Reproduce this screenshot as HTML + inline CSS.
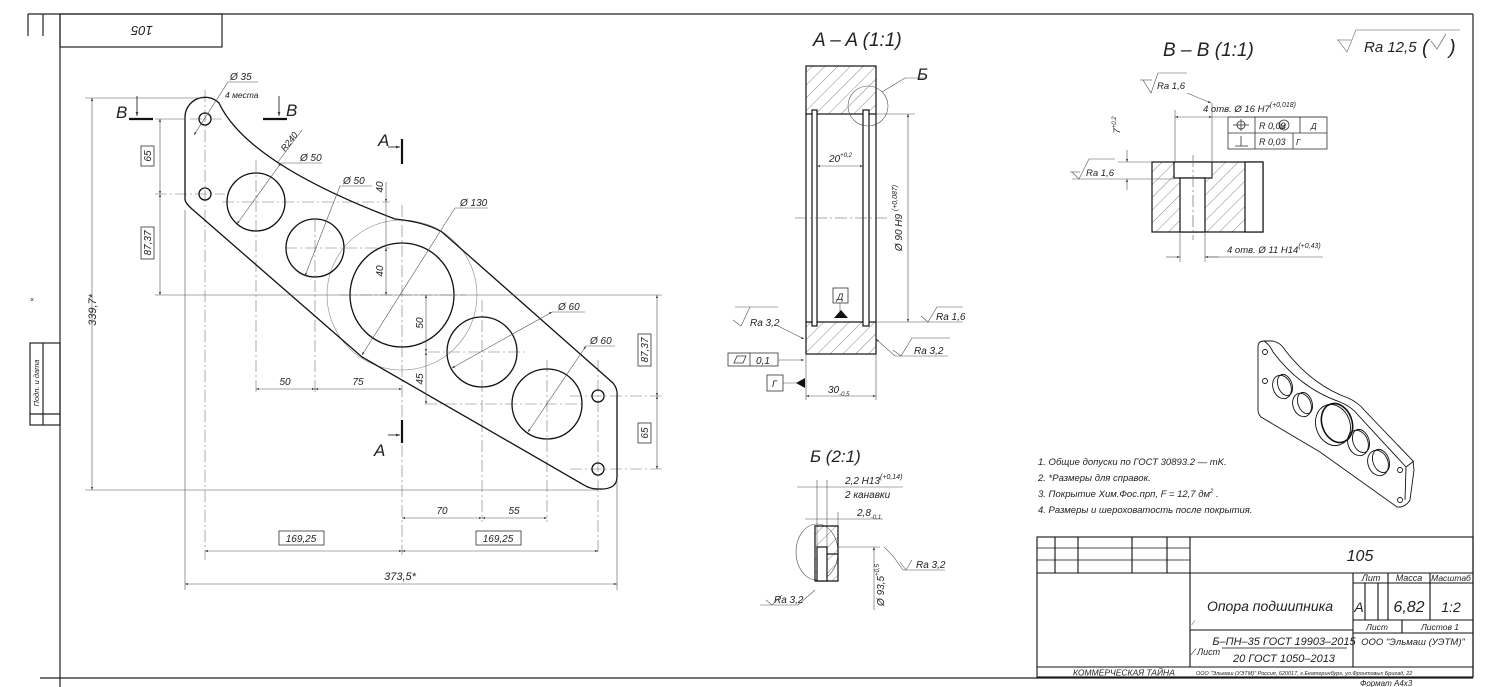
<!DOCTYPE html>
<html><head><meta charset="utf-8">
<style>
html,body{margin:0;padding:0;background:#fff;}
svg{display:block;}
text{font-family:"Liberation Sans","DejaVu Sans",sans-serif;font-style:italic;fill:#222;}
</style></head>
<body>
<svg width="1500" height="687" viewBox="0 0 1500 687" xmlns="http://www.w3.org/2000/svg">
<defs>
<marker id="a" viewBox="0 0 10 10" refX="10" refY="5" markerWidth="7" markerHeight="5" orient="auto-start-reverse"><path d="M0,1.5L10,5L0,8.5z" fill="#333"/></marker>
<pattern id="h" width="9" height="9" patternUnits="userSpaceOnUse" patternTransform="rotate(45)"><line x1="0" y1="0" x2="0" y2="9" stroke="#555" stroke-width="0.7"/></pattern>
</defs>
<rect width="1500" height="687" fill="#fff"/>

<!-- Frame -->
<g stroke="#222" fill="none" stroke-width="1.2">
<line x1="28" y1="14" x2="1473" y2="14"/>
<line x1="60" y1="14" x2="60" y2="687"/>
<line x1="1473" y1="14" x2="1473" y2="677"/>
<line x1="40" y1="678" x2="1473" y2="678"/>
<rect x="60" y="14" width="162" height="33"/>
<line x1="28" y1="14" x2="28" y2="36"/><line x1="43" y1="14" x2="43" y2="36"/>
<rect x="30" y="343" width="30" height="82"/>
<line x1="43" y1="343" x2="43" y2="425"/>
<line x1="30" y1="414" x2="60" y2="414"/>
</g>
<text x="142" y="36" font-size="13" transform="rotate(180 142 31)" text-anchor="middle">105</text>
<text x="0" y="0" font-size="7.5" transform="translate(39 383) rotate(-90)" text-anchor="middle">Подп. и дата</text>
<text x="30" y="302" font-size="7" fill="#555">×</text>

<!-- Centerlines main view -->
<g stroke="#777" stroke-width="0.6" stroke-dasharray="12 3 2 3" fill="none">
<line x1="205" y1="90" x2="205" y2="560"/>
<line x1="598" y1="360" x2="598" y2="555"/>
<line x1="256" y1="160" x2="256" y2="392"/>
<line x1="315" y1="220" x2="315" y2="392"/>
<line x1="402" y1="205" x2="402" y2="555"/>
<line x1="482" y1="300" x2="482" y2="522"/>
<line x1="547" y1="360" x2="547" y2="522"/>
<line x1="222" y1="202" x2="390" y2="202"/>
<line x1="285" y1="248" x2="390" y2="248"/>
<line x1="340" y1="295" x2="465" y2="295"/>
<line x1="428" y1="352" x2="525" y2="352"/>
<line x1="425" y1="404" x2="585" y2="404"/>
<line x1="190" y1="119" x2="225" y2="119"/>
<line x1="155" y1="194" x2="225" y2="194"/>
<line x1="570" y1="396" x2="662" y2="396"/>
<line x1="570" y1="469" x2="662" y2="469"/>
</g>
<circle cx="402" cy="295" r="75" stroke="#888" stroke-width="0.6" fill="none"/>

<!-- Main outline -->
<g stroke="#111" stroke-width="1.3" fill="none">
<path d="M185,199 L185,117 A20,20 0 0 1 219,103 Q247,163 395,219 Q425,222 442,232 L613,383 Q618,389 617,397 L617,477 Q617,490 598,489 Q590,489 584,485 L362,357 L192,209 Q185,203 185,199 Z"/>
<circle cx="205" cy="119" r="6"/><circle cx="205" cy="194" r="6"/>
<circle cx="598" cy="396" r="6"/><circle cx="598" cy="469" r="6"/>
<circle cx="256" cy="202" r="29"/>
<circle cx="315" cy="248" r="29"/>
<circle cx="402" cy="295" r="52"/>
<circle cx="482" cy="352" r="35"/>
<circle cx="547" cy="404" r="35"/>
</g>

<!-- Dimension lines main -->
<g stroke="#555" stroke-width="0.6" fill="none">
<line x1="85" y1="98" x2="205" y2="98"/>
<line x1="85" y1="490" x2="598" y2="490"/>
<line x1="92" y1="98" x2="92" y2="490" marker-start="url(#a)" marker-end="url(#a)"/>
<line x1="185" y1="210" x2="185" y2="590"/>
<line x1="617" y1="480" x2="617" y2="590"/>
<line x1="185" y1="584" x2="617" y2="584" marker-start="url(#a)" marker-end="url(#a)"/>
<line x1="205" y1="551" x2="402" y2="551" marker-start="url(#a)" marker-end="url(#a)"/>
<line x1="402" y1="551" x2="598" y2="551" marker-start="url(#a)" marker-end="url(#a)"/>
<line x1="402" y1="518" x2="482" y2="518" marker-start="url(#a)" marker-end="url(#a)"/>
<line x1="482" y1="518" x2="547" y2="518" marker-start="url(#a)" marker-end="url(#a)"/>
<line x1="256" y1="389" x2="315" y2="389" marker-start="url(#a)" marker-end="url(#a)"/>
<line x1="315" y1="389" x2="402" y2="389" marker-start="url(#a)" marker-end="url(#a)"/>
<line x1="155" y1="119" x2="185" y2="119"/>
<line x1="155" y1="295" x2="402" y2="295"/>
<line x1="160" y1="119" x2="160" y2="194" marker-start="url(#a)" marker-end="url(#a)"/>
<line x1="160" y1="194" x2="160" y2="295" marker-start="url(#a)" marker-end="url(#a)"/>
<line x1="402" y1="295" x2="662" y2="295"/>
<line x1="657" y1="295" x2="657" y2="396" marker-start="url(#a)" marker-end="url(#a)"/>
<line x1="657" y1="396" x2="657" y2="469" marker-start="url(#a)" marker-end="url(#a)"/>
<line x1="386" y1="182" x2="386" y2="202" marker-end="url(#a)"/>
<line x1="386" y1="248" x2="386" y2="295" marker-start="url(#a)" marker-end="url(#a)"/>
<line x1="386" y1="202" x2="386" y2="248"/>
<line x1="426" y1="295" x2="426" y2="352" marker-start="url(#a)" marker-end="url(#a)"/>
<line x1="426" y1="352" x2="426" y2="404" marker-start="url(#a)" marker-end="url(#a)"/>
<line x1="194" y1="135" x2="228" y2="82" marker-start="url(#a)"/><line x1="228" y1="82" x2="258" y2="82"/>
<line x1="278" y1="162" x2="302" y2="130"/>
<line x1="237" y1="224" x2="281" y2="163" marker-start="url(#a)" marker-end="url(#a)"/><line x1="281" y1="163" x2="322" y2="163"/>
<line x1="305" y1="276" x2="340" y2="186" marker-start="url(#a)"/><line x1="340" y1="186" x2="372" y2="186"/>
<line x1="362" y1="355" x2="455" y2="208" marker-start="url(#a)"/><line x1="455" y1="208" x2="488" y2="208"/>
<line x1="452" y1="368" x2="552" y2="312" marker-start="url(#a)" marker-end="url(#a)"/><line x1="552" y1="312" x2="585" y2="312"/>
<line x1="528" y1="432" x2="586" y2="346" marker-start="url(#a)" marker-end="url(#a)"/><line x1="586" y1="346" x2="615" y2="346"/>
</g>
<g font-size="10">
<text x="80" y="294" transform="rotate(-90 96 294)" text-anchor="middle" font-size="11">339,7*</text>
<text x="400" y="580" font-size="11" text-anchor="middle">373,5*</text>
<rect x="279" y="531" width="45" height="14" fill="none" stroke="#333" stroke-width="0.8"/>
<text x="301" y="542" text-anchor="middle">169,25</text>
<rect x="476" y="531" width="45" height="14" fill="none" stroke="#333" stroke-width="0.8"/>
<text x="498" y="542" text-anchor="middle">169,25</text>
<text x="442" y="514" text-anchor="middle">70</text>
<text x="514" y="514" text-anchor="middle">55</text>
<text x="285" y="385" text-anchor="middle">50</text>
<text x="358" y="385" text-anchor="middle">75</text>
<rect x="141" y="146" width="13" height="20" fill="none" stroke="#333" stroke-width="0.8"/>
<text transform="translate(151 156) rotate(-90)" text-anchor="middle">65</text>
<rect x="141" y="227" width="13" height="32" fill="none" stroke="#333" stroke-width="0.8"/>
<text transform="translate(151 243) rotate(-90)" text-anchor="middle">87,37</text>
<rect x="638" y="334" width="13" height="32" fill="none" stroke="#333" stroke-width="0.8"/>
<text transform="translate(648 350) rotate(-90)" text-anchor="middle">87,37</text>
<rect x="638" y="423" width="13" height="20" fill="none" stroke="#333" stroke-width="0.8"/>
<text transform="translate(648 433) rotate(-90)" text-anchor="middle">65</text>
<text transform="translate(383 187) rotate(-90)" text-anchor="middle">40</text>
<text transform="translate(383 271) rotate(-90)" text-anchor="middle">40</text>
<text transform="translate(423 323) rotate(-90)" text-anchor="middle">50</text>
<text transform="translate(423 379) rotate(-90)" text-anchor="middle">45</text>
<text x="230" y="80">Ø 35</text>
<text x="225" y="98" font-size="8.5">4 места</text>
<text transform="translate(285 152) rotate(-52)" font-size="9">R240</text>
<text x="300" y="161">Ø 50</text>
<text x="343" y="184">Ø 50</text>
<text x="460" y="206">Ø 130</text>
<text x="558" y="310">Ø 60</text>
<text x="590" y="344">Ø 60</text>
</g>
<g stroke="#111" fill="none">
<line x1="129" y1="119" x2="153" y2="119" stroke-width="2.2"/>
<line x1="137" y1="96" x2="137" y2="116" stroke-width="0.8" marker-end="url(#a)"/>
<line x1="263" y1="119" x2="287" y2="119" stroke-width="2.2"/>
<line x1="279" y1="96" x2="279" y2="116" stroke-width="0.8" marker-end="url(#a)"/>
<line x1="402" y1="139" x2="402" y2="164" stroke-width="2.2"/>
<line x1="388" y1="147" x2="400" y2="147" stroke-width="0.8" marker-end="url(#a)"/>
<line x1="402" y1="420" x2="402" y2="443" stroke-width="2.2"/>
<line x1="388" y1="435" x2="400" y2="435" stroke-width="0.8" marker-end="url(#a)"/>
</g>
<g font-size="17">
<text x="116" y="118">B</text><text x="286" y="116">B</text>
<text x="378" y="146">A</text><text x="374" y="456">A</text>
</g>

<!-- Section A-A -->
<text x="813" y="46" font-size="19">A – A (1:1)</text>
<g stroke="#111" stroke-width="1.2">
<rect x="806" y="66" width="70" height="48" fill="url(#h)"/>
<rect x="806" y="322" width="70" height="32" fill="url(#h)"/>
<line x1="806" y1="114" x2="806" y2="322"/><line x1="876" y1="114" x2="876" y2="322"/>
<rect x="812" y="110" width="5" height="216" fill="#fff"/>
<rect x="863" y="110" width="6" height="216" fill="#fff"/>
</g>
<g stroke="#555" stroke-width="0.6" fill="none">
<line x1="795" y1="218" x2="890" y2="218" stroke-dasharray="12 3 2 3"/>
<circle cx="868" cy="106" r="20"/>
<line x1="882" y1="92" x2="905" y2="78"/><line x1="905" y1="78" x2="925" y2="78"/>
<line x1="876" y1="114" x2="915" y2="114"/>
<line x1="908" y1="114" x2="908" y2="322" marker-start="url(#a)" marker-end="url(#a)"/>
<line x1="817" y1="166" x2="863" y2="166" marker-start="url(#a)" marker-end="url(#a)"/>
<line x1="840" y1="303" x2="840" y2="316"/>
<line x1="735" y1="307" x2="778" y2="307"/><polyline points="733,320 741,326 750,307"/>
<line x1="778" y1="326" x2="804" y2="339" marker-end="url(#a)"/>
<line x1="876" y1="322" x2="963" y2="322"/><polyline points="921,316 928,322 937,307 963,307"/>
<line x1="876" y1="339" x2="895" y2="356" marker-start="url(#a)"/><line x1="895" y1="356" x2="948" y2="356"/>
<polyline points="893,350 901,356 912,338 950,338"/>
<line x1="806" y1="354" x2="806" y2="400"/><line x1="876" y1="354" x2="876" y2="400"/>
<line x1="806" y1="396" x2="876" y2="396" marker-start="url(#a)" marker-end="url(#a)"/>
<line x1="778" y1="360" x2="804" y2="360" marker-end="url(#a)"/>
<line x1="783" y1="383" x2="804" y2="383"/>
</g>
<path d="M834,318 L841,310 L848,318Z" fill="#111"/>
<path d="M796,383 L805,378 L805,388Z" fill="#111"/>
<g stroke="#333" stroke-width="0.8" fill="none">
<rect x="833" y="288" width="15" height="15"/>
<rect x="728" y="353" width="50" height="13"/><line x1="750" y1="353" x2="750" y2="366"/>
<path d="M734,363 L737,356 L746,356 L743,363Z"/>
<rect x="767" y="375" width="16" height="16"/>
</g>
<g font-size="10">
<text x="917" y="80" font-size="17">Б</text>
<text x="829" y="162">20<tspan font-size="6" dy="-5">+0,2</tspan></text>
<text transform="translate(902 218) rotate(-90)" text-anchor="middle">Ø 90 H9 <tspan font-size="7" dy="-5">(+0,087)</tspan></text>
<text x="837" y="300" font-size="9">Д</text>
<text x="750" y="326" fill="#888">Ra 3,2</text>
<text x="936" y="320" fill="#888">Ra 1,6</text>
<text x="914" y="354" fill="#888">Ra 3,2</text>
<text x="756" y="364">0,1</text>
<text x="772" y="387" font-size="9">Г</text>
<text x="828" y="393">30<tspan font-size="6" dy="3">-0,5</tspan></text>
</g>

<!-- Detail Б -->
<text x="810" y="462" font-size="17">Б (2:1)</text>
<g stroke="#555" stroke-width="0.6" fill="none">
<line x1="797" y1="487" x2="903" y2="487"/>
<line x1="805" y1="519" x2="883" y2="519"/>
<line x1="817" y1="480" x2="817" y2="547"/><line x1="827" y1="480" x2="827" y2="547"/>
<line x1="838" y1="512" x2="838" y2="526"/>
<ellipse cx="817" cy="552" rx="21" ry="28"/>
<line x1="838" y1="547" x2="880" y2="547"/>
<line x1="874" y1="547" x2="874" y2="610" marker-start="url(#a)"/>
<polyline points="884,547 893,556 903,570 945,570"/><polyline points="900,562 906,570 912,560"/>
<polyline points="760,605 798,605 815,590"/><polyline points="766,600 772,605 782,595"/>
</g>
<g stroke="#111" stroke-width="1.2">
<path d="M815,526 L838,526 L838,581 L815,581Z" fill="url(#h)"/>
<rect x="817" y="547" width="10" height="34" fill="#fff"/>
<line x1="827" y1="554" x2="838" y2="554"/>
</g>
<g font-size="10">
<text x="845" y="484">2,2 H13<tspan font-size="7" dy="-5">(+0,14)</tspan></text>
<text x="845" y="498">2 канавки</text>
<text x="857" y="516">2,8<tspan font-size="6" dy="3">-0,1</tspan></text>
<text transform="translate(884 585) rotate(-90)" text-anchor="middle">Ø 93,5<tspan font-size="6" dy="-5">+0,5</tspan></text>
<text x="916" y="568" fill="#888">Ra 3,2</text>
<text x="774" y="603" fill="#888">Ra 3,2</text>
</g>

<!-- B-B -->
<text x="1163" y="56" font-size="19">B – B (1:1)</text>
<g stroke="#888" stroke-width="0.8" fill="none">
<polyline points="1338,40 1347,52 1356,30 1460,30"/>
<line x1="1337" y1="40" x2="1351" y2="40"/>
</g>
<text x="1364" y="52" font-size="15" fill="#888">Ra 12,5</text>
<text x="1422" y="54" font-size="20" fill="#888" font-style="normal">(</text>
<polyline points="1431,41 1437,49 1446,34" stroke="#888" fill="none"/>
<text x="1449" y="54" font-size="20" fill="#888" font-style="normal">)</text>
<g stroke="#111" stroke-width="1.2">
<rect x="1152" y="162" width="111" height="70" fill="url(#h)"/>
<rect x="1174" y="162" width="38" height="16" fill="#fff"/>
<rect x="1180" y="178" width="25" height="54" fill="#fff"/>
<rect x="1245" y="162" width="18" height="70" fill="#fff"/>
</g>
<g stroke="#555" stroke-width="0.6" fill="none">
<line x1="1193" y1="155" x2="1193" y2="240" stroke-dasharray="12 3 2 3"/>
<polyline points="1143,80 1151,93 1158,73 1187,73"/><line x1="1140" y1="80" x2="1152" y2="80"/>
<line x1="1187" y1="93" x2="1211" y2="103" marker-end="url(#a)"/>
<line x1="1212" y1="103" x2="1212" y2="178"/><line x1="1175" y1="110" x2="1175" y2="162"/>
<line x1="1175" y1="117" x2="1212" y2="117" marker-start="url(#a)" marker-end="url(#a)"/>
<line x1="1212" y1="117" x2="1327" y2="117"/>
<line x1="1118" y1="162" x2="1152" y2="162"/>
<line x1="1127" y1="150" x2="1127" y2="162" marker-end="url(#a)"/>
<line x1="1127" y1="190" x2="1127" y2="179" marker-end="url(#a)"/>
<line x1="1072" y1="179" x2="1174" y2="179"/>
<polyline points="1072,172 1079,179 1089,159 1115,159"/><line x1="1070" y1="172" x2="1080" y2="172"/>
<line x1="1180" y1="232" x2="1180" y2="262"/><line x1="1205" y1="232" x2="1205" y2="262"/>
<line x1="1166" y1="257" x2="1180" y2="257" marker-end="url(#a)"/>
<line x1="1219" y1="257" x2="1205" y2="257" marker-end="url(#a)"/><line x1="1205" y1="257" x2="1323" y2="257"/>
</g>
<g stroke="#333" stroke-width="0.8" fill="none">
<rect x="1228" y="117" width="99" height="32"/>
<line x1="1228" y1="133" x2="1327" y2="133"/>
<line x1="1255" y1="117" x2="1255" y2="149"/>
<line x1="1300" y1="117" x2="1300" y2="133"/>
<line x1="1293" y1="133" x2="1293" y2="149"/>
<circle cx="1241" cy="125" r="4"/><line x1="1233" y1="125" x2="1249" y2="125"/><line x1="1241" y1="119" x2="1241" y2="131"/>
<line x1="1235" y1="146" x2="1248" y2="146"/><line x1="1241" y1="136" x2="1241" y2="146"/>
<circle cx="1284" cy="125" r="5"/>
</g>
<g font-size="9.5">
<text x="1157" y="89" fill="#888">Ra 1,6</text>
<text x="1086" y="176" fill="#888">Ra 1,6</text>
<text x="1203" y="112">4 отв. Ø  16 H7<tspan font-size="7" dy="-5">(+0,018)</tspan></text>
<text x="1259" y="129" font-size="9">R 0,03</text><text x="1280" y="129" font-size="7">M</text>
<text x="1311" y="129" font-size="8">Д</text>
<text x="1259" y="145" font-size="9">R 0,03</text>
<text x="1296" y="145" font-size="8">Г</text>
<text transform="translate(1120 125) rotate(-90)" text-anchor="middle">7<tspan font-size="6" dy="-4">+0,2</tspan></text>
<text x="1227" y="253">4 отв. Ø  11 H14<tspan font-size="7" dy="-5">(+0,43)</tspan></text>
</g>

<!-- Isometric -->
<g stroke="#111" stroke-width="0.9" fill="none">
<path d="M1258,347 Q1258,341 1264,341 L1273,341 Q1281,343 1285,350 Q1312,385 1348,398 Q1358,402 1366,412 L1413,461 L1414,470 L1410,500 Q1405,508 1397,507 L1320,452 L1261,417 Q1258,414 1258,410 Z"/>
<path d="M1264,341 Q1270,345 1273,352 Q1300,388 1340,402 Q1352,407 1358,415 L1406,467 L1405,500"/>
<path d="M1406,467 L1414,461"/>
<ellipse cx="1282" cy="387" rx="9" ry="12" transform="rotate(-20 1282 387)"/>
<ellipse cx="1285" cy="385" rx="7" ry="11" transform="rotate(-20 1285 385)"/>
<ellipse cx="1302" cy="405" rx="9" ry="12" transform="rotate(-20 1302 405)"/>
<ellipse cx="1305" cy="403" rx="7" ry="11" transform="rotate(-20 1305 403)"/>
<ellipse cx="1333" cy="425" rx="17" ry="21" transform="rotate(-20 1333 425)"/>
<ellipse cx="1337" cy="423" rx="15" ry="20" transform="rotate(-20 1337 423)" stroke-width="1.6"/>
<ellipse cx="1358" cy="443" rx="10" ry="13" transform="rotate(-20 1358 443)"/>
<ellipse cx="1361" cy="441" rx="8" ry="12" transform="rotate(-20 1361 441)"/>
<ellipse cx="1378" cy="463" rx="10" ry="13" transform="rotate(-20 1378 463)"/>
<ellipse cx="1381" cy="461" rx="8" ry="12" transform="rotate(-20 1381 461)"/>
<circle cx="1265" cy="352" r="2.5"/><circle cx="1265" cy="381" r="2.5"/>
<circle cx="1400" cy="470" r="2.5"/><circle cx="1400" cy="500" r="2.5"/>
</g>

<!-- Notes -->
<g font-size="9.5">
<text x="1038" y="465">1. Общие допуски по ГОСТ 30893.2 — mK.</text>
<text x="1038" y="481">2. *Размеры для справок.</text>
<text x="1038" y="497">3. Покрытие Хим.Фос.прп, F = 12,7 дм<tspan font-size="6" dy="-4">2</tspan><tspan dy="4"> .</tspan></text>
<text x="1038" y="513">4. Размеры и шероховатость после покрытия.</text>
</g>

<!-- Title block -->
<g stroke="#111" stroke-width="1.1" fill="none">
<rect x="1037" y="537" width="436" height="140"/>
<line x1="1037" y1="548" x2="1190" y2="548" stroke-width="0.7"/>
<line x1="1037" y1="560" x2="1190" y2="560" stroke-width="0.7"/>
<line x1="1037" y1="573" x2="1473" y2="573"/>
<line x1="1055" y1="537" x2="1055" y2="573"/><line x1="1078" y1="537" x2="1078" y2="573"/>
<line x1="1132" y1="537" x2="1132" y2="573"/><line x1="1167" y1="537" x2="1167" y2="573"/>
<line x1="1190" y1="537" x2="1190" y2="667"/>
<line x1="1037" y1="667" x2="1473" y2="667"/>
<line x1="1353" y1="573" x2="1353" y2="667"/>
<line x1="1353" y1="583" x2="1473" y2="583"/>
<line x1="1365" y1="583" x2="1365" y2="620"/><line x1="1378" y1="583" x2="1378" y2="620"/>
<line x1="1388" y1="573" x2="1388" y2="620"/><line x1="1430" y1="573" x2="1430" y2="620"/>
<line x1="1353" y1="620" x2="1473" y2="620"/><line x1="1353" y1="633" x2="1473" y2="633"/>
<line x1="1402" y1="620" x2="1402" y2="633"/>
<line x1="1190" y1="630" x2="1353" y2="630"/>
<line x1="1222" y1="648" x2="1347" y2="648" stroke-width="0.8"/>
</g>
<text x="1360" y="561" font-size="16" text-anchor="middle">105</text>
<text x="1270" y="611" font-size="14" text-anchor="middle">Опора подшипника</text>
<g font-size="9" text-anchor="middle">
<text x="1371" y="581">Лит</text><text x="1409" y="581">Масса</text><text x="1451" y="581" font-size="8.5">Масштаб</text>
<text x="1377" y="630" font-size="8.5">Лист</text><text x="1440" y="630" font-size="8.5">Листов   1</text>
</g>
<text x="1359" y="612" font-size="14" text-anchor="middle">A</text>
<text x="1409" y="612" font-size="16" text-anchor="middle">6,82</text>
<text x="1451" y="612" font-size="14" text-anchor="middle">1:2</text>
<text x="1284" y="645" font-size="11" text-anchor="middle">Б–ПН–35 ГОСТ 19903–2015</text>
<text x="1284" y="662" font-size="11" text-anchor="middle">20 ГОСТ 1050–2013</text>
<text x="1193" y="655" font-size="9">⁄ Лист</text>
<text x="1193" y="625" font-size="6">⁄</text>
<text x="1413" y="645" font-size="9.5" text-anchor="middle">ООО "Эльмаш (УЭТМ)"</text>
<text x="1073" y="675.5" font-size="8.5" font-style="normal">КОММЕРЧЕСКАЯ ТАЙНА</text>
<text x="1196" y="675" font-size="5.5" fill="#777">ООО "Эльмаш (УЭТМ)" Россия, 620017, г.Екатеринбург, ул.Фронтовых Бригад, 22</text>
<text x="1360" y="686" font-size="8">Формат А4х3</text>
</svg>
</body></html>
